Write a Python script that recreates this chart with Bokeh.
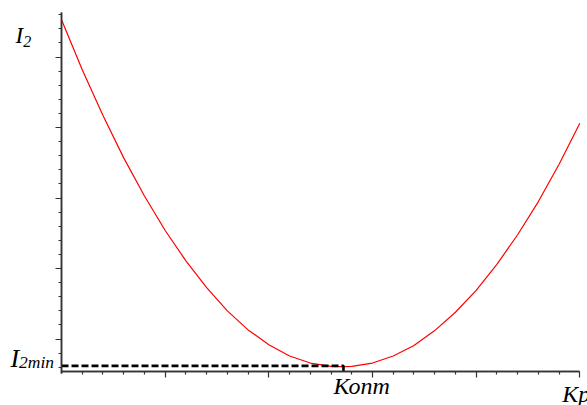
from bokeh.plotting import figure
from bokeh.models import Range1d, FixedTicker, Label, LinearAxis
from bokeh.embed import file_html
from bokeh.resources import INLINE

# Curve I2(Kp) (axis units: one minor tick = 1)
kp_values = [0, 1, 2, 3, 4, 5, 6, 7, 8, 9, 10, 11, 12, 13, 13.6,
             14, 15, 16, 17, 18, 19, 20, 21, 22, 23, 24, 25]
i2_values = [24.95, 21.4, 18.15, 15.15, 12.45, 10.0, 7.85, 5.95, 4.3, 2.95,
             1.9, 1.1, 0.6, 0.37, 0.35, 0.37, 0.6, 1.1, 1.85, 2.9, 4.2,
             5.75, 7.6, 9.7, 12.05, 14.7, 17.6]
k_opt = 13.6
i2_min = 0.4

x_major = [5, 10, 15, 20, 25]
x_minor = [k for k in range(1, 25) if k % 5 != 0]
y_major = [2.3, 7.3, 12.3, 17.3, 22.3]
y_minor = [round(0.3 + k, 1) for k in range(26) if k % 5 != 2]

W, H = 587, 405
p = figure(width=W, height=H, output_backend="svg", toolbar_location=None,
           x_range=Range1d(-2.943, 25.37), y_range=Range1d(-2.411, 26.31),
           x_axis_location=None, y_axis_location=None,
           min_border_left=0, min_border_right=0, min_border_top=0,
           min_border_bottom=0)
p.grid.visible = False
p.outline_line_color = None
p.background_fill_color = "white"
p.border_fill_color = "white"

AX = "#333333"

def make_axis(ticks, length, bounds):
    ax = LinearAxis(ticker=FixedTicker(ticks=[], minor_ticks=ticks),
                    fixed_location=0, bounds=bounds)
    ax.axis_line_color = AX
    ax.axis_line_width = 1.5
    ax.minor_tick_line_color = AX
    ax.minor_tick_line_width = 1.2
    ax.minor_tick_in = length
    ax.minor_tick_out = 0
    ax.major_tick_in = 0
    ax.major_tick_out = 0
    return ax

# x axis: ticks point down, y axis: ticks point left
p.add_layout(make_axis(x_minor, 3, (0, 25)), "above")
p.add_layout(make_axis(x_major, 6, (0, 25)), "above")
p.add_layout(make_axis(y_minor, 3, (-0.15, 25.45)), "right")
p.add_layout(make_axis(y_major, 6, (-0.15, 25.45)), "right")

p.line(kp_values, i2_values, line_color="#ff0000", line_width=1.2,
       line_join="round")
p.line([0, k_opt, k_opt], [i2_min, i2_min, 0], line_color="black",
       line_width=2.6, line_dash="7 3")

font = "Liberation Serif"

def lab(x, y, text, size):
    p.add_layout(Label(x=x, y=y, text=text, text_font=font,
                       text_font_style="italic", text_font_size=size,
                       text_color="black", text_baseline="alphabetic",
                       text_align="left"))

lab(-2.22, 23.81, "I", "23px")
lab(-1.85, 23.43, "2", "16px")
lab(-2.46, 0.89, "I", "26px")
lab(-2.05, 0.70, "2min", "17.5px")
lab(13.12, -1.06, "Копт", "24px")
lab(24.15, -1.58, "Kp", "24px")

open("out.html", "w").write(file_html(p, INLINE))
